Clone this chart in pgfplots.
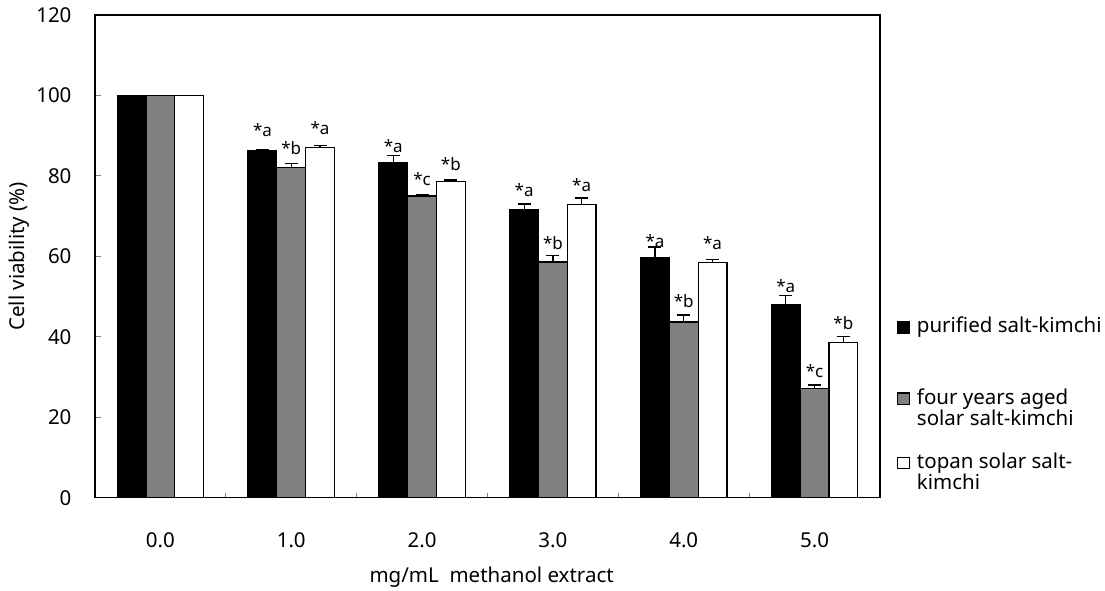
\documentclass[border=0pt]{standalone}
\usepackage{fontspec}
\setmainfont{Noto Sans}
\usepackage{pgfplots}
\usepackage{pgfplotstable}
\pgfplotsset{compat=1.18}

\pgfplotstableread{
x y e
-0.22 100 0
0.78 86.3 0.2
1.78 83.2 1.8
2.78 71.6 1.4
3.78 59.6 2.7
4.78 47.9 2.4
}\blackdata
\pgfplotstableread{
x y e
0 100 0
1 82.1 1.0
2 75.0 0.3
3 58.6 1.7
4 43.7 1.7
5 27.1 0.9
}\graydata
\pgfplotstableread{
x y e
0.22 100 0
1.22 87.1 0.5
2.22 78.6 0.4
3.22 72.8 1.7
4.22 58.4 0.8
5.22 38.5 1.5
}\whitedata
\pgfplotstableread{
x y lab
0.78 89.7 *a
1.00 85.2 *b
1.22 90.2 *a
1.78 85.9 *a
2.00 77.7 *c
2.22 81.4 *b
2.78 74.8 *a
3.00 61.6 *b
3.22 76.0 *a
3.78 62.3 *a
4.00 47.2 *b
4.22 61.6 *a
4.78 50.9 *a
5.00 30.0 *c
5.22 41.7 *b
}\labdata

\pgfplotsset{
  legbox/.style={
    scale only axis, width=785pt, height=482.7pt, hide axis,
    xmin=0, xmax=1, ymin=0, ymax=1,
    legend style={at={(1.0217,#1)}, anchor=north west, draw=none, fill=none,
      inner sep=0pt, row sep=0pt, column sep=7pt, cells={anchor=base west},
      nodes={inner sep=0pt}},
    legend image code/.code={\draw[##1, line width=1.2pt] (0pt,0pt) rectangle (11.5pt,11.5pt);},
  }
}

\begin{document}
\begin{tikzpicture}[font=\fontsize{20.5}{24}\selectfont]
\begin{axis}[
  scale only axis,
  width=785pt, height=482.7pt,
  xmin=-0.5, xmax=5.5, ymin=0, ymax=120,
  axis line style={line width=1.2pt},
  xtick={0,1,2,3,4,5},
  xticklabels={0.0,1.0,2.0,3.0,4.0,5.0},
  major x tick style={draw=none},
  minor xtick={0.5,1.5,2.5,3.5,4.5},
  minor tick length=5pt,
  minor tick style={line width=1.2pt},
  ytick={0,20,40,60,80,100,120},
  major tick length=6pt,
  major tick style={line width=1.2pt},
  xtick pos=bottom, ytick pos=left,
  tick align=inside,
  /pgf/number format/assume math mode=true,
  xticklabel style={anchor=north, yshift=-31pt},
  yticklabel style={xshift=-20pt},
  ylabel={Cell viability (\%)},
  every axis y label/.style={at={(axis description cs:-0.0968,0.5)}, rotate=90, anchor=center},
  xlabel={mg/mL\ \ methanol extract},
  every axis x label/.style={at={(axis description cs:0.5053,-0.1643)}, anchor=center},
  error bars/error bar style={line width=1.2pt, black},
  error bars/error mark options={rotate=90, mark size=6.5pt, line width=1.2pt, black},
]
\addplot[ybar, bar width=0.22, bar shift=0, fill=black, draw=black, line width=1.2pt,
  error bars/.cd, y dir=plus, y explicit]
  table[x=x, y=y, y error=e] {\blackdata};
\addplot[ybar, bar width=0.22, bar shift=0, fill=gray, draw=black, line width=1.2pt,
  error bars/.cd, y dir=plus, y explicit]
  table[x=x, y=y, y error=e] {\graydata};
\addplot[ybar, bar width=0.22, bar shift=0, fill=white, draw=black, line width=1.2pt,
  error bars/.cd, y dir=plus, y explicit]
  table[x=x, y=y, y error=e] {\whitedata};
\addplot[draw=none, mark=none, sharp plot,
  nodes near coords, point meta=explicit symbolic,
  every node near coord/.style={anchor=base, font=\fontsize{17}{19}\selectfont, inner sep=0pt}]
  table[x=x, y=y, meta=lab] {\labdata};
\end{axis}

\begin{axis}[legbox=0.3743]
\addlegendimage{fill=black, draw=black}
\addlegendentry{purified salt-kimchi}
\end{axis}
\begin{axis}[legbox=0.2260]
\addlegendimage{fill=gray, draw=black}
\addlegendentry{\vtop{\baselineskip=21pt\hbox{four years aged}\hbox{solar salt-kimchi}}}
\end{axis}
\begin{axis}[legbox=0.0925]
\addlegendimage{fill=white, draw=black}
\addlegendentry{\vtop{\baselineskip=21pt\hbox{topan solar salt-}\hbox{kimchi}}}
\end{axis}

\pgfresetboundingbox
\path[use as bounding box] ([xshift=-95pt,yshift=-93.3pt]current axis.south west) rectangle ([xshift=225pt,yshift=15pt]current axis.north east);
\end{tikzpicture}
\end{document}
